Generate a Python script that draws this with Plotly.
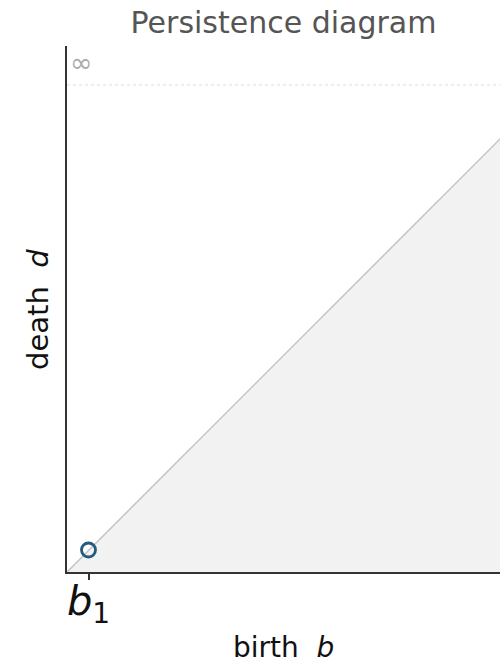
import plotly.graph_objects as go

# Persistence pairs (birth, death) in diagram units
births = [0.215]
deaths = [0.22]
tick_labels = ["<i>b</i><sub>1</sub>"]

# Axis extents and the level used to draw "infinite" deaths
x_max = 4.33
y_max = 5.26
inf_level = 4.87

FONT = "DejaVu Sans"

fig = go.Figure()

# Region below the diagonal (death < birth is impossible)
fig.add_trace(go.Scatter(
    x=[0, x_max * 1.2, x_max * 1.2, 0],
    y=[0, x_max * 1.2, 0, 0],
    fill="toself", fillcolor="#f2f2f2",
    line=dict(width=0), mode="lines", hoverinfo="skip", showlegend=False,
))

# Diagonal d = b
fig.add_trace(go.Scatter(
    x=[0, x_max * 1.2], y=[0, x_max * 1.2],
    mode="lines", line=dict(color="#c4c4c4", width=1.5),
    hoverinfo="skip", showlegend=False,
))

# Infinity level
fig.add_trace(go.Scatter(
    x=[0, x_max], y=[inf_level, inf_level],
    mode="lines", line=dict(color="#dcdcdc", width=1, dash="dot"),
    hoverinfo="skip", showlegend=False,
))

# Persistence points
fig.add_trace(go.Scatter(
    x=births, y=deaths, mode="markers",
    marker=dict(size=14, color="rgba(0,0,0,0)",
                line=dict(color="#235a7e", width=2.8)),
    showlegend=False,
))

fig.add_annotation(
    x=0, y=inf_level, xref="x", yref="y", text="∞", showarrow=False,
    xanchor="left", yanchor="bottom", xshift=1, yshift=5,
    font=dict(family=FONT, size=27, color="#aaaaaa"),
)

fig.add_annotation(
    x=0.5, y=-0.143, xref="paper", yref="paper",
    text="birth  <i>b</i>", showarrow=False,
    xanchor="center", yanchor="middle",
    font=dict(family=FONT, size=28, color="#111111"),
)
fig.add_annotation(
    x=-0.067, y=0.5, xref="paper", yref="paper",
    text="death  <i>d</i>", showarrow=False, textangle=-90,
    xanchor="center", yanchor="middle",
    font=dict(family=FONT, size=29, color="#111111"),
)

fig.update_layout(
    width=500, height=664,
    margin=dict(l=67, r=0, t=46, b=92),
    paper_bgcolor="white", plot_bgcolor="white",
    title=dict(text="Persistence diagram", x=0.5, xref="paper",
               y=1 - 22 / 664, yref="container", yanchor="middle",
               font=dict(family=FONT, size=30, color="#555555")),
    xaxis=dict(range=[0, x_max], showgrid=False, zeroline=False,
               showline=True, linecolor="#333333", linewidth=1.6,
               tickmode="array", tickvals=births, ticktext=tick_labels,
               ticks="outside", ticklen=6, tickwidth=1.6, tickcolor="#333333",
               ticklabelstandoff=-13,
               tickfont=dict(family=FONT, size=40, color="#111111")),
    yaxis=dict(range=[0, y_max], showgrid=False, zeroline=False,
               showline=True, linecolor="#333333", linewidth=1.6,
               showticklabels=False, ticks=""),
)

fig.write_html("out.html")
